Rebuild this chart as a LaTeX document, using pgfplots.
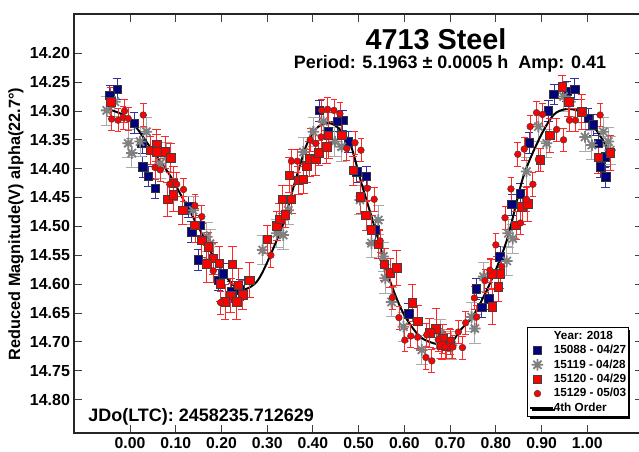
\documentclass[border=0pt]{standalone}
\usepackage{fontspec}
\setmainfont{Liberation Sans}
\usepackage{pgfplots}
\pgfplotsset{compat=1.18}
\usetikzlibrary{shadows}
\def\px{0.75pt}
\definecolor{navyb}{RGB}{0,0,128}
\definecolor{gstar}{RGB}{128,128,128}
\definecolor{gerr}{RGB}{170,170,170}
\definecolor{berr}{RGB}{50,50,160}
\definecolor{rerr}{RGB}{255,40,40}
\pgfdeclareplotmark{star8}{%
  \pgfpathmoveto{\pgfqpointpolar{0}{\pgfplotmarksize}}\pgfpathlineto{\pgfqpointpolar{180}{\pgfplotmarksize}}%
  \pgfpathmoveto{\pgfqpointpolar{45}{\pgfplotmarksize}}\pgfpathlineto{\pgfqpointpolar{225}{\pgfplotmarksize}}%
  \pgfpathmoveto{\pgfqpointpolar{90}{\pgfplotmarksize}}\pgfpathlineto{\pgfqpointpolar{270}{\pgfplotmarksize}}%
  \pgfpathmoveto{\pgfqpointpolar{135}{\pgfplotmarksize}}\pgfpathlineto{\pgfqpointpolar{315}{\pgfplotmarksize}}%
  \pgfusepathqstroke}
\begin{document}
\begin{tikzpicture}
\path[use as bounding box] (0pt,0pt) rectangle (639*\px,-451*\px);
\begin{axis}[
  at={(74*\px,-433*\px)}, anchor=south west,
  scale only axis, width=569*\px, height=419*\px,
  xmin=-0.1225, xmax=1.1218, ymin=14.132, ymax=14.858, y dir=reverse,
  clip=true,
  axis line style={line width=1.1pt,black!85},
  tick align=inside, tick pos=both, major tick length=6pt,
  every tick/.style={line width=0.7pt,black!75},
  xtick={0,0.1,...,1.01}, ytick={14.20,14.25,...,14.81},
  xticklabel style={font=\bfseries\fontsize{11.8}{12}\selectfont, yshift=0pt},
  yticklabel style={font=\bfseries\fontsize{12}{12}\selectfont, xshift=0.5pt},
  x tick label style={/pgf/number format/.cd,fixed,fixed zerofill,precision=2,assume math mode=true},
  y tick label style={/pgf/number format/.cd,fixed,fixed zerofill,precision=2,assume math mode=true},
  legend cell align=left,
  legend style={at={(0.7961,0.253)},anchor=north west,draw=black,line width=0.7pt,fill=white,
    font=\bfseries\fontsize{8.8}{10}\selectfont,
    inner xsep=1.5pt,inner ysep=1pt,row sep=0pt,column sep=0pt,
    drop shadow={shadow xshift=1.6pt,shadow yshift=-1.6pt,fill=black,opacity=1},
    nodes={inner sep=0pt,minimum height=10.8pt,anchor=west}},
  legend image code/.code={\draw[mark repeat=2,mark phase=2,#1] plot coordinates {(0cm,0cm)(0.19cm,0cm)(0.38cm,0cm)};},
]
\addlegendimage{empty legend}\addlegendentry{Year: 2018}

% 15088 - 04/27
\addplot[only marks,mark=square*,mark size=3.2pt,mark options={fill=navyb,draw=black!80,line width=0.4pt},
  error bars/.cd,y dir=both,y fixed=0.018,error bar style={berr,line width=0.6pt}]
table {
-0.028 14.262
-0.044 14.273
0.009 14.321
0.026 14.356
0.028 14.397
0.040 14.413
0.055 14.434
0.128 14.466
0.135 14.509
0.153 14.498
0.149 14.558
0.193 14.593
0.204 14.582
0.222 14.613
0.241 14.610
0.414 14.299
0.465 14.316
0.453 14.318
0.434 14.336
0.477 14.353
0.496 14.405
0.517 14.413
0.536 14.506
0.609 14.651
0.927 14.271
0.955 14.266
0.972 14.262
0.915 14.300
0.873 14.355
0.835 14.462
0.853 14.443
0.809 14.553
0.757 14.608
0.784 14.625
0.769 14.640
1.002 14.313
1.013 14.324
1.024 14.356
1.039 14.379
1.028 14.397
1.040 14.414
};
\addlegendentry{15088 - 04/27}

% 15119 - 04/28
\addplot[only marks,mark=star8,mark size=4.3pt,mark options={draw=gstar,line width=1.35pt},
  error bars/.cd,y dir=both,y fixed=0.025,error bar style={gerr,line width=0.7pt}]
table {
-0.051 14.299
-0.033 14.284
-0.004 14.356
0.022 14.353
0.004 14.373
0.036 14.336
0.080 14.379
0.066 14.391
0.138 14.472
0.168 14.518
0.175 14.530
0.290 14.541
0.335 14.515
0.321 14.512
0.346 14.472
0.401 14.336
0.379 14.371
0.423 14.318
0.448 14.353
0.463 14.362
0.503 14.454
0.543 14.489
0.528 14.529
0.554 14.552
0.558 14.590
0.572 14.631
0.598 14.674
0.638 14.714
0.681 14.703
0.948 14.275
0.962 14.284
0.893 14.327
0.911 14.356
0.867 14.405
0.827 14.512
0.837 14.521
0.824 14.560
0.773 14.587
0.747 14.657
0.754 14.677
0.703 14.706
0.678 14.686
0.995 14.345
1.010 14.359
1.035 14.336
1.046 14.353
1.050 14.368
};
\addlegendentry{15119 - 04/28}

% 4th order curve (drawn under the red points)
\addplot[forget plot,black,line width=1.5pt,smooth,no marks] table {
-0.047 14.297
-0.015 14.307
0.015 14.330
0.051 14.371
0.087 14.411
0.117 14.454
0.153 14.506
0.190 14.564
0.226 14.602
0.251 14.609
0.277 14.596
0.299 14.564
0.335 14.495
0.360 14.425
0.386 14.359
0.408 14.330
0.430 14.321
0.452 14.327
0.481 14.356
0.506 14.425
0.539 14.512
0.568 14.593
0.598 14.651
0.634 14.691
0.671 14.704
0.700 14.704
0.722 14.680
0.751 14.654
0.787 14.599
0.824 14.524
0.860 14.414
0.897 14.345
0.926 14.307
0.952 14.297
0.981 14.300
1.006 14.318
1.036 14.353
1.050 14.373
};

% 15120 - 04/29
\addplot[only marks,mark=square*,mark size=3.2pt,mark options={fill=red,draw=black!75,line width=0.4pt},
  error bars/.cd,y dir=both,y explicit,error bar style={rerr,line width=0.6pt}]
table[x index=0,y index=1,y error index=2] {
-0.042 14.284 0.025
0.058 14.359 0.028
0.044 14.368 0.025
0.058 14.371 0.030
0.077 14.371 0.028
0.089 14.381 0.025
0.095 14.425 0.030
0.082 14.453 0.030
0.095 14.445 0.028
0.115 14.472 0.025
0.142 14.498 0.030
0.157 14.524 0.030
0.171 14.535 0.025
0.182 14.555 0.028
0.168 14.565 0.032
0.195 14.564 0.030
0.224 14.566 0.032
0.197 14.599 0.030
0.237 14.602 0.030
0.260 14.593 0.030
0.220 14.619 0.030
0.246 14.618 0.025
0.233 14.631 0.030
0.208 14.631 0.030
0.262 14.593 0.030
0.300 14.522 0.024
0.321 14.499 0.025
0.327 14.488 0.028
0.339 14.480 0.022
0.333 14.453 0.025
0.353 14.453 0.025
0.348 14.411 0.030
0.368 14.420 0.025
0.379 14.418 0.025
0.386 14.395 0.028
0.392 14.383 0.030
0.406 14.384 0.028
0.413 14.372 0.022
0.430 14.362 0.028
0.434 14.342 0.040
0.463 14.342 0.025
0.488 14.403 0.025
0.503 14.449 0.028
0.516 14.481 0.025
0.528 14.506 0.025
0.543 14.531 0.025
0.556 14.566 0.028
0.569 14.580 0.025
0.583 14.572 0.030
0.617 14.632 0.032
0.629 14.664 0.028
0.669 14.677 0.035
0.655 14.684 0.025
0.684 14.694 0.025
0.700 14.700 0.022
0.681 14.706 0.022
0.692 14.707 0.022
0.945 14.258 0.020
0.959 14.284 0.025
0.988 14.301 0.030
0.918 14.342 0.030
0.897 14.385 0.020
0.857 14.466 0.030
0.870 14.461 0.030
0.844 14.498 0.025
0.805 14.605 0.025
0.792 14.639 0.030
0.809 14.582 0.025
0.791 14.582 0.025
0.684 14.694 0.025
0.682 14.706 0.025
1.024 14.380 0.028
1.050 14.372 0.030
};
\addlegendentry{15120 - 04/29}

% 15129 - 05/03
\addplot[only marks,mark=*,mark size=2.5pt,mark options={fill=red,draw=black!75,line width=0.4pt},
  error bars/.cd,y dir=both,y fixed=0.02,error bar style={rerr,line width=0.6pt}]
table {
-0.040 14.314
-0.026 14.316
-0.012 14.300
-0.015 14.311
0.029 14.307
-0.004 14.313
0.055 14.398
0.066 14.402
0.087 14.427
0.102 14.427
0.117 14.436
0.142 14.464
0.157 14.483
0.182 14.577
0.198 14.632
0.308 14.550
0.353 14.387
0.366 14.387
0.394 14.350
0.406 14.356
0.419 14.299
0.432 14.297
0.446 14.299
0.459 14.305
0.418 14.345
0.474 14.365
0.492 14.355
0.505 14.368
0.519 14.434
0.534 14.453
0.547 14.525
0.574 14.623
0.588 14.658
0.601 14.697
0.614 14.690
0.629 14.692
0.649 14.688
0.674 14.696
0.647 14.727
0.660 14.733
0.889 14.303
0.902 14.306
0.875 14.327
0.933 14.332
0.948 14.350
0.862 14.366
0.848 14.375
0.893 14.384
0.961 14.316
0.974 14.316
0.988 14.299
1.028 14.307
0.881 14.427
0.833 14.435
0.867 14.453
0.820 14.485
0.854 14.494
0.800 14.532
0.813 14.570
0.787 14.576
0.776 14.594
0.753 14.624
0.758 14.657
0.734 14.667
0.718 14.683
0.700 14.697
0.727 14.710
0.706 14.709
0.689 14.709
};
\addlegendentry{15129 - 05/03}

\addlegendimage{black,line width=1.2pt,no marks,line legend}
\addlegendentry{4th Order}
\end{axis}
\node[font=\bfseries\fontsize{21.6}{24}\selectfont] at (436*\px,-39*\px) {4713 Steel};
\node[font=\bfseries\fontsize{13.5}{15}\selectfont] at (450*\px,-64*\px) {Period: 5.1963 ± 0.0005 h\ \ Amp: 0.41};
\node[font=\bfseries\fontsize{13.5}{15}\selectfont,anchor=west,inner sep=0pt] at (88*\px,-417*\px) {JDo(LTC): 2458235.712629};
\node[font=\bfseries\fontsize{12.2}{14}\selectfont,rotate=90] at (16*\px,-224*\px) {Reduced Magnitude(V) alpha(22.7°)};
\end{tikzpicture}
\end{document}
